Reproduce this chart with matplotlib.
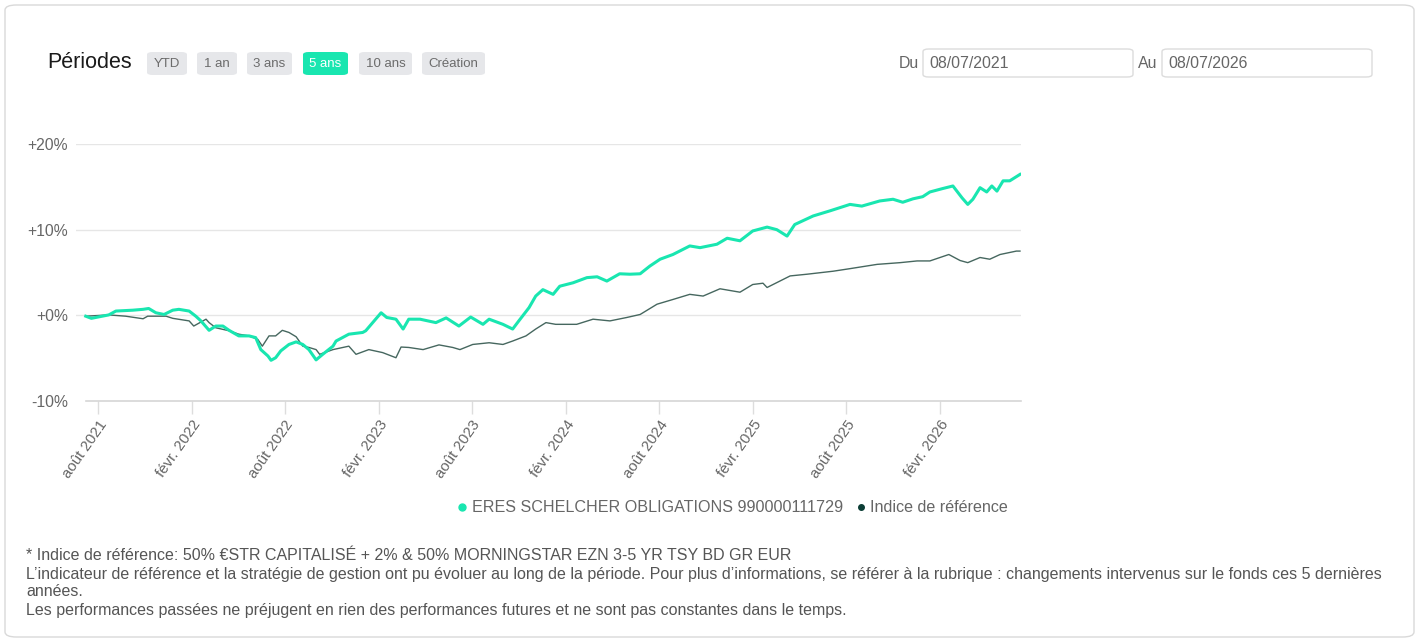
import pandas as pd
import matplotlib.pyplot as plt
import matplotlib.dates as mdates
from matplotlib.patches import FancyBboxPatch
from matplotlib.lines import Line2D

plt.rcParams['font.family'] = ['Liberation Sans', 'DejaVu Sans']

# DONNÉES (performance cumulée en %)
fund_dates = [
    '2021-07-08', '2021-07-19', '2021-08-22', '2021-09-05', '2021-10-08', '2021-10-28',
    '2021-11-08', '2021-11-22', '2021-12-08', '2021-12-25', '2022-01-06', '2022-01-26',
    '2022-02-08', '2022-02-18', '2022-03-06', '2022-03-19', '2022-04-02', '2022-04-14',
    '2022-05-03', '2022-05-23', '2022-06-05', '2022-06-15', '2022-06-29', '2022-07-05',
    '2022-07-14', '2022-07-24', '2022-08-09', '2022-08-23', '2022-09-05', '2022-09-17',
    '2022-10-01', '2022-10-14', '2022-11-03', '2022-11-09', '2022-12-04', '2022-12-31',
    '2023-01-06', '2023-02-05', '2023-02-16', '2023-03-06', '2023-03-20', '2023-03-31',
    '2023-04-22', '2023-05-23', '2023-06-12', '2023-07-07', '2023-07-30', '2023-08-23',
    '2023-09-04', '2023-10-01', '2023-10-20', '2023-11-01', '2023-11-21', '2023-12-04',
    '2023-12-18', '2024-01-07', '2024-01-20', '2024-02-15', '2024-03-13', '2024-04-02',
    '2024-04-21', '2024-05-16', '2024-06-05', '2024-06-25', '2024-07-14', '2024-08-03',
    '2024-08-28', '2024-09-30', '2024-10-20', '2024-11-22', '2024-12-12', '2025-01-06',
    '2025-01-31', '2025-02-28', '2025-03-19', '2025-04-08', '2025-04-23', '2025-05-29',
    '2025-07-01', '2025-08-09', '2025-09-01', '2025-10-06', '2025-11-01', '2025-11-20',
    '2025-12-10', '2025-12-29', '2026-01-12', '2026-02-06', '2026-02-26', '2026-03-16',
    '2026-03-27', '2026-04-06', '2026-04-20', '2026-05-03', '2026-05-13', '2026-05-23',
    '2026-06-04', '2026-06-17', '2026-07-07',
]
fund_values = [
    -0.1, -0.35, 0.05, 0.5, 0.6, 0.7,
    0.8, 0.3, 0.1, 0.6, 0.7, 0.5,
    -0.1, -0.65, -1.75, -1.25, -1.25, -1.75,
    -2.4, -2.4, -2.6, -4.0, -4.75, -5.25,
    -4.95, -4.15, -3.4, -3.1, -3.4, -4.0,
    -5.2, -4.55, -3.6, -3.0, -2.2, -2.0,
    -1.8, 0.3, -0.25, -0.45, -1.6, -0.45,
    -0.45, -0.85, -0.3, -1.25, -0.2, -1.05,
    -0.45, -1.05, -1.6, -0.65, 0.9, 2.25,
    3.0, 2.45, 3.4, 3.8, 4.4, 4.5,
    4.0, 4.85, 4.8, 4.85, 5.75, 6.55,
    7.1, 8.1, 7.9, 8.3, 9.0, 8.7,
    9.85, 10.3, 10.0, 9.25, 10.6, 11.6,
    12.2, 12.95, 12.75, 13.35, 13.55, 13.2,
    13.6, 13.85, 14.4, 14.8, 15.1, 13.7,
    12.95, 13.55, 14.9, 14.4, 15.1, 14.5,
    15.7, 15.7, 16.45,
]

index_dates = [
    '2021-07-08', '2021-08-22', '2021-09-24', '2021-10-28', '2021-11-06', '2021-12-12',
    '2021-12-25', '2022-01-26', '2022-02-04', '2022-02-28', '2022-03-06', '2022-03-19',
    '2022-04-14', '2022-05-03', '2022-05-23', '2022-06-09', '2022-06-18', '2022-07-01',
    '2022-07-14', '2022-07-27', '2022-08-09', '2022-08-23', '2022-09-05', '2022-09-17',
    '2022-10-01', '2022-10-08', '2022-11-03', '2022-12-04', '2022-12-18', '2023-01-12',
    '2023-02-08', '2023-03-06', '2023-03-16', '2023-03-31', '2023-04-28', '2023-05-29',
    '2023-06-25', '2023-07-09', '2023-08-03', '2023-09-04', '2023-10-01', '2023-10-20',
    '2023-11-15', '2023-12-04', '2023-12-24', '2024-01-12', '2024-02-22', '2024-03-25',
    '2024-04-27', '2024-05-30', '2024-06-25', '2024-07-28', '2024-08-28', '2024-09-30',
    '2024-10-26', '2024-11-28', '2025-01-06', '2025-01-31', '2025-02-20', '2025-02-28',
    '2025-04-14', '2025-05-17', '2025-07-07', '2025-08-09', '2025-10-01', '2025-11-15',
    '2025-12-18', '2026-01-12', '2026-02-18', '2026-03-12', '2026-03-27', '2026-04-20',
    '2026-05-09', '2026-05-29', '2026-06-30', '2026-07-07',
]
index_values = [
    -0.1, 0.05, -0.1, -0.4, -0.1, -0.1,
    -0.35, -0.65, -1.25, -0.45, -0.85, -1.45,
    -1.8, -2.2, -2.4, -2.8, -3.6, -2.4,
    -2.4, -1.75, -2.0, -2.5, -3.6, -3.75,
    -4.0, -4.55, -4.0, -3.6, -4.55, -4.0,
    -4.35, -4.95, -3.7, -3.75, -4.0, -3.45,
    -3.75, -4.0, -3.4, -3.2, -3.4, -3.0,
    -2.4, -1.6, -0.85, -1.05, -1.05, -0.45,
    -0.65, -0.25, 0.1, 1.3, 1.85, 2.45,
    2.25, 3.1, 2.7, 3.6, 3.75, 3.25,
    4.6, 4.8, 5.15, 5.45, 5.95, 6.15,
    6.35, 6.35, 7.1, 6.4, 6.15, 6.75,
    6.55, 7.1, 7.5, 7.5,
]

y_ticks = [-10, 0, 10, 20]
y_labels = ['-10%', '+0%', '+10%', '+20%']
x_tick_dates = ['2021-08-01', '2022-02-01', '2022-08-01', '2023-02-01', '2023-08-01',
                '2024-02-01', '2024-08-01', '2025-02-01', '2025-08-01', '2026-02-01']
x_tick_labels = ['août 2021', 'févr. 2022', 'août 2022', 'févr. 2023', 'août 2023',
                 'févr. 2024', 'août 2024', 'févr. 2025', 'août 2025', 'févr. 2026']
periods = ['YTD', '1 an', '3 ans', '5 ans', '10 ans', 'Création']
date_from = '08/07/2021'
date_to = '08/07/2026'
fund_name = 'ERES SCHELCHER OBLIGATIONS 990000111729'
index_name = 'Indice de référence'
notes = [
    '* Indice de référence: 50% €STR CAPITALISÉ + 2% & 50% MORNINGSTAR EZN 3-5 YR TSY BD GR EUR',
    'L’indicateur de référence et la stratégie de gestion ont pu évoluer au long de la période. '
    'Pour plus d’informations, se référer à la rubrique : changements intervenus sur le fonds ces 5 dernières',
    'années.',
    'Les performances passées ne préjugent en rien des performances futures et ne sont pas constantes dans le temps.',
]

GREEN = '#19e6b0'
DARK = '#46675f'
GREY_TXT = '#666666'

W, H = 1423, 641
fig = plt.figure(figsize=(W / 100, H / 100), dpi=100)


def fx(x):
    return x / W


def fy(y):
    return 1 - y / H


# cadre de la carte
fig.patches.append(FancyBboxPatch((fx(5), fy(637)), fx(1409), 632 / H,
                                  boxstyle='round,pad=0,rounding_size=0.008',
                                  transform=fig.transFigure, facecolor='none',
                                  edgecolor='#d9d9d9', linewidth=1, zorder=-5))

# EN-TÊTE
fig.text(fx(47), fy(63), 'Périodes', fontsize=15.5, color='#1a1a1a', va='center')
btn_x = [147, 197, 247, 303, 359, 422]
btn_w = [40, 40, 45, 45, 53, 63]
for lbl, bx, bw in zip(periods, btn_x, btn_w):
    active = lbl == '5 ans'
    fig.patches.append(FancyBboxPatch((fx(bx), fy(75)), fx(bw), 23 / H,
                                      boxstyle='round,pad=0,rounding_size=0.004',
                                      transform=fig.transFigure,
                                      facecolor=GREEN if active else '#e6e7ea',
                                      edgecolor='none'))
    fig.text(fx(bx + bw / 2), fy(64), lbl, fontsize=9.5, ha='center', va='center',
             color='white' if active else '#6b6b6b')

for lbl, lx, box_x, val in [('Du', 899, 923, date_from), ('Au', 1138, 1162, date_to)]:
    fig.text(fx(lx), fy(63), lbl, fontsize=11.4, color=GREY_TXT, va='center')
    fig.patches.append(FancyBboxPatch((fx(box_x), fy(77)), fx(210), 28 / H,
                                      boxstyle='round,pad=0,rounding_size=0.004',
                                      transform=fig.transFigure, facecolor='white',
                                      edgecolor='#dcdcdc', linewidth=1))
    fig.text(fx(box_x + 6), fy(63), val, fontsize=11.4, color=GREY_TXT, va='center')

# GRAPHIQUE
ax = fig.add_axes([fx(76), fy(401), fx(1021 - 76), (401 - 144) / H])
ax.patch.set_alpha(0)
fd = pd.to_datetime(fund_dates)
idd = pd.to_datetime(index_dates)
ax.plot(idd, index_values, color=DARK, linewidth=1.0, zorder=3)
ax.plot(fd, fund_values, color=GREEN, linewidth=2.2, zorder=4)

ax.set_ylim(-10, 20)
ax.set_xlim(pd.Timestamp('2021-06-19'), pd.Timestamp('2026-07-09'))
ax.set_yticks(y_ticks)
ax.set_yticklabels(y_labels)
ax.set_xticks(pd.to_datetime(x_tick_dates))
ax.set_xticklabels(x_tick_labels, rotation=55, ha='right', va='top', rotation_mode='anchor')
ax.tick_params(axis='y', length=0, pad=6, labelsize=11.3, labelcolor=GREY_TXT)
ax.tick_params(axis='x', length=9, width=1, color='#dddddd', pad=3,
               labelsize=10.8, labelcolor=GREY_TXT)
for s in ['top', 'right', 'left']:
    ax.spines[s].set_visible(False)
ax.spines['bottom'].set_color('#d6d6d6')
ax.spines['bottom'].set_linewidth(1.2)
ax.spines['bottom'].set_bounds(mdates.date2num(pd.Timestamp('2021-07-08')),
                               mdates.date2num(pd.Timestamp('2026-07-09')))
for v in y_ticks[1:]:
    ax.axhline(v, color='#e6e6e6', linewidth=1, zorder=1)

handles = [
    Line2D([], [], marker='o', linestyle='', color=GREEN, markersize=5),
    Line2D([], [], marker='o', linestyle='', color='#0b3d35', markersize=4),
]
fig.legend(handles, [fund_name, index_name], loc='center right',
           bbox_to_anchor=(fx(1016), fy(508)), ncol=2, frameon=False,
           fontsize=11.6, labelcolor=GREY_TXT, handletextpad=0.1,
           columnspacing=0.6, handlelength=1.0, borderpad=0)

# NOTES
for txt, ly in zip(notes, [555, 575, 592, 611]):
    fig.text(fx(26), fy(ly), txt, fontsize=11.5, color='#555555', va='center')

fig.savefig('out.png', dpi=100, facecolor='white')
